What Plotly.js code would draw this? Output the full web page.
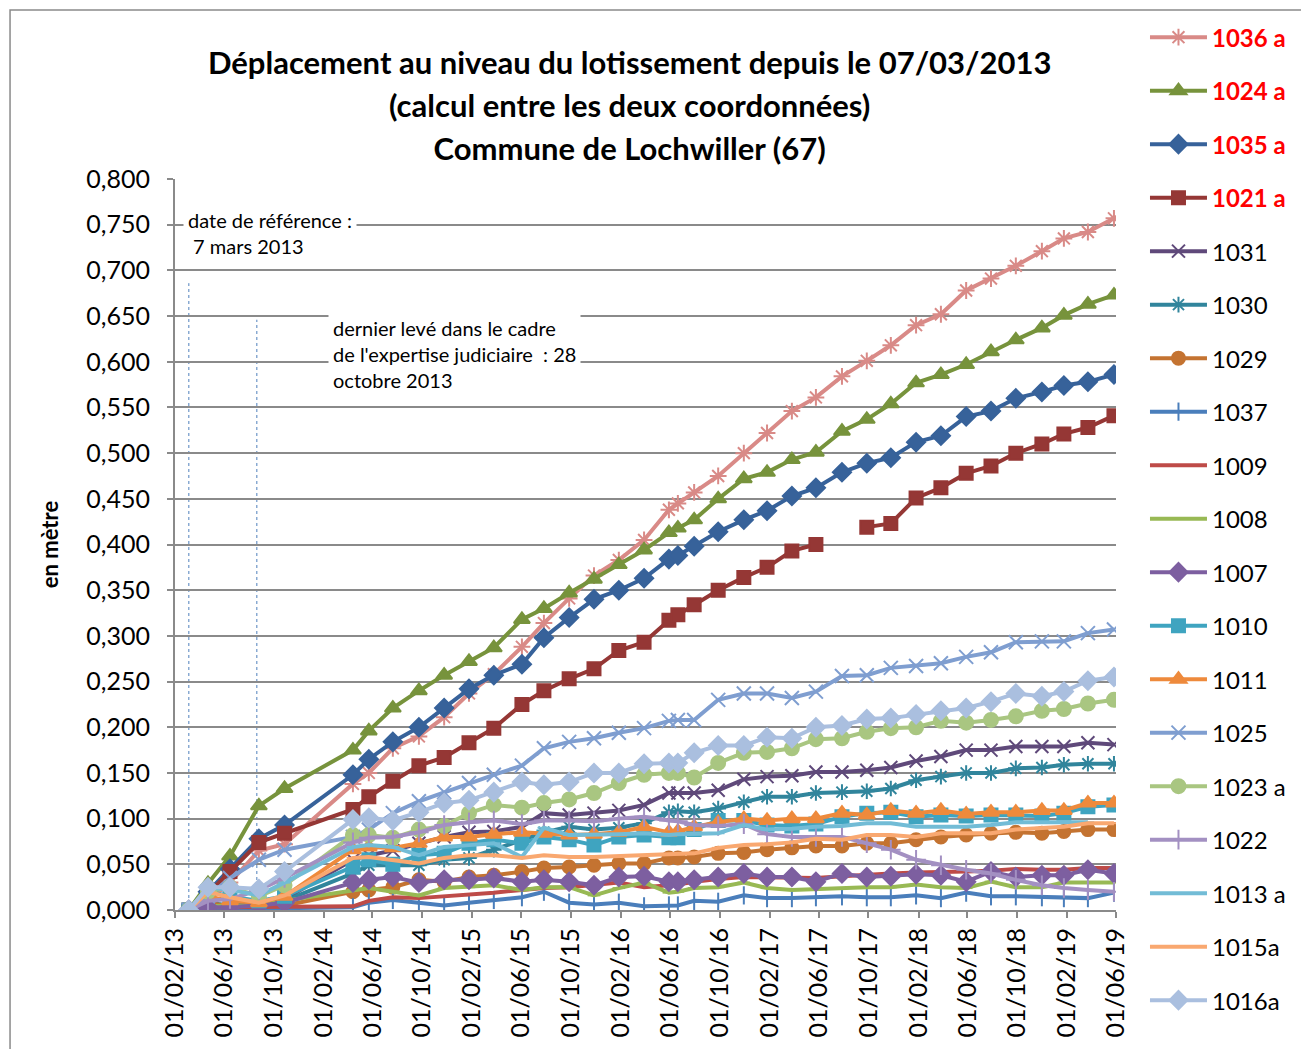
<!DOCTYPE html>
<html>
<head>
<meta charset="utf-8">
<script src="https://cdn.plot.ly/plotly-3.0.1.min.js"></script>
<style>html,body{margin:0;padding:0;background:#fff;}</style>
</head>
<body>
<div id="chart" style="width:1301px;height:1049px;"></div>
<script>
// ---- Data ----
const dates = ['2013-03-07','2013-04-23','2013-06-16','2013-08-26','2013-10-28',
  '2014-04-14','2014-05-23','2014-07-21','2014-09-23','2014-11-24',
  '2015-01-24','2015-03-26','2015-06-03','2015-07-27','2015-09-27','2015-11-27',
  '2016-01-27','2016-03-29','2016-05-29','2016-06-20','2016-07-30','2016-09-27','2016-11-29',
  '2017-01-25','2017-03-27','2017-05-25','2017-07-28','2017-09-27','2017-11-25',
  '2018-01-26','2018-03-28','2018-05-29','2018-07-29','2018-09-28','2018-12-01',
  '2019-01-24','2019-03-24','2019-05-27'];

const s1036a = [0,0.010,0.030,0.065,0.072,0.138,0.150,0.177,0.190,0.211,0.237,0.258,0.288,0.314,0.341,0.366,0.383,0.405,0.438,0.445,0.457,0.475,0.500,0.522,0.546,0.561,0.584,0.601,0.618,0.640,0.652,0.678,0.691,0.705,0.721,0.735,0.742,0.757];
const s1024a = [0,0.029,0.059,0.114,0.133,0.175,0.196,0.221,0.240,0.257,0.272,0.287,0.318,0.330,0.347,0.362,0.378,0.394,0.413,0.418,0.427,0.450,0.472,0.479,0.493,0.501,0.524,0.537,0.554,0.577,0.586,0.597,0.611,0.624,0.637,0.651,0.663,0.673];
const s1035a = [0,0.020,0.045,0.078,0.093,0.148,0.165,0.184,0.200,0.221,0.242,0.257,0.269,0.298,0.320,0.340,0.350,0.363,0.384,0.388,0.398,0.414,0.427,0.437,0.453,0.462,0.479,0.489,0.495,0.512,0.519,0.540,0.546,0.560,0.567,0.574,0.578,0.586];
const s1021a = [0,0.018,0.042,0.074,0.084,0.110,0.124,0.141,0.158,0.167,0.183,0.199,0.225,0.240,0.253,0.264,0.284,0.293,0.317,0.323,0.334,0.350,0.364,0.375,0.393,0.400,null,0.419,0.423,0.451,0.462,0.478,0.486,0.500,0.510,0.521,0.528,0.541];
const s1031 = [0,0.003,0.004,0.008,0.012,0.055,0.060,0.065,0.073,0.080,0.085,0.086,0.091,0.106,0.104,0.106,0.109,0.115,0.128,0.128,0.128,0.131,0.143,0.146,0.147,0.151,0.151,0.153,0.156,0.163,0.168,0.175,0.175,0.179,0.179,0.179,0.183,0.181];
const s1030 = [0,0.008,0.005,0.004,0.010,0.040,0.049,0.049,0.049,0.055,0.057,0.066,0.077,0.085,0.091,0.088,0.090,0.095,0.107,0.108,0.107,0.111,0.118,0.124,0.124,0.128,0.129,0.130,0.133,0.142,0.146,0.150,0.150,0.155,0.156,0.159,0.160,0.160];
const s1029 = [0,0.008,0.004,0.003,0.005,0.020,0.022,0.025,0.033,0.031,0.036,0.038,0.042,0.046,0.047,0.049,0.051,0.051,0.057,0.057,0.058,0.062,0.063,0.066,0.068,0.070,0.070,0.073,0.073,0.077,0.080,0.082,0.084,0.085,0.084,0.086,0.088,0.088];
const s1037 = [0,0.001,0.001,0.001,0.002,0.003,0.008,0.011,0.008,0.005,0.008,0.011,0.014,0.020,0.008,0.006,0.008,0.004,0.005,0.005,0.010,0.009,0.016,0.013,0.013,0.014,0.015,0.014,0.014,0.016,0.013,0.019,0.015,0.015,0.014,0.013,0.013,0.019];
const s1009 = [0,0.003,0.003,0.003,0.003,0.004,0.010,0.014,0.013,0.015,0.016,0.019,0.022,0.024,0.025,0.027,0.030,0.025,0.027,0.028,0.031,0.034,0.036,0.036,0.035,0.035,0.037,0.039,0.040,0.041,0.041,0.042,0.043,0.045,0.044,0.044,0.046,0.046];
const s1008 = [0,0.004,0.005,0.005,0.010,0.022,0.024,0.020,0.016,0.024,0.025,0.027,0.022,0.025,0.025,0.016,0.024,0.030,0.019,0.020,0.024,0.025,0.030,0.024,0.022,0.023,0.024,0.025,0.025,0.028,0.025,0.024,0.031,0.025,0.025,0.030,0.030,0.030];
const s1007 = [0,0.003,0.003,0.005,0.008,0.030,0.033,0.036,0.030,0.033,0.033,0.035,0.031,0.033,0.031,0.027,0.036,0.037,0.031,0.031,0.033,0.036,0.040,0.036,0.036,0.031,0.040,0.036,0.037,0.039,0.038,0.031,0.042,0.036,0.038,0.038,0.044,0.040];
const s1010 = [0,0.020,0.015,0.010,0.015,0.047,0.055,0.050,0.060,0.062,0.073,0.077,0.073,0.080,0.077,0.071,0.080,0.082,0.079,0.079,0.088,0.098,0.098,0.093,0.092,0.094,0.102,0.106,0.107,0.102,0.104,0.103,0.104,0.104,0.103,0.106,0.113,0.115];
const s1011 = [0,0.015,0.010,0.008,0.015,0.066,0.069,0.068,0.073,0.080,0.080,0.083,0.085,0.084,0.082,0.083,0.085,0.091,0.085,0.086,0.091,0.096,0.100,0.098,0.100,0.100,0.106,0.104,0.109,0.106,0.109,0.105,0.107,0.107,0.109,0.109,0.117,0.117];
const s1025 = [0,0.015,0.035,0.055,0.066,0.080,0.088,0.106,0.119,0.129,0.139,0.148,0.158,0.177,0.184,0.188,0.194,0.199,0.207,0.208,0.208,0.230,0.237,0.237,0.232,0.239,0.256,0.257,0.265,0.267,0.270,0.277,0.282,0.293,0.294,0.294,0.303,0.307];
const s1023a = [0,0.020,0.025,0.015,0.027,0.082,0.082,0.079,0.088,0.092,0.106,0.115,0.112,0.117,0.121,0.128,0.139,0.148,0.150,0.150,0.145,0.161,0.172,0.173,0.177,0.187,0.188,0.195,0.199,0.200,0.207,0.205,0.208,0.212,0.218,0.220,0.226,0.230];
const s1022 = [0,0.010,0.012,0.022,0.035,0.074,0.079,0.080,0.085,0.093,0.096,0.098,0.094,0.098,0.098,0.097,0.100,0.102,0.098,0.097,0.093,0.092,0.094,0.083,0.080,0.080,0.080,0.073,0.066,0.055,0.049,0.044,0.040,0.033,0.027,0.024,0.022,0.020];
const s1013a = [0,0.025,0.022,0.016,0.030,0.069,0.071,0.069,0.060,0.069,0.071,0.073,0.058,0.090,0.082,0.082,0.083,0.084,0.082,0.083,0.083,0.084,0.093,0.088,0.089,0.091,0.092,0.095,0.095,0.091,0.091,0.091,0.093,0.096,0.096,0.096,0.096,null];
const s1015a = [0,0.020,0.014,0.008,0.016,0.057,0.058,0.055,0.051,0.057,0.060,0.060,0.057,0.060,0.058,0.058,0.059,0.060,0.061,0.061,0.062,0.068,0.071,0.072,0.074,0.078,0.077,0.082,0.082,0.080,0.084,0.084,0.084,0.088,0.090,0.091,0.095,0.095];
const s1016a = [0,0.025,0.025,0.023,0.042,0.099,0.101,0.098,0.107,0.117,0.120,0.129,0.140,0.137,0.140,0.150,0.150,0.160,0.161,0.161,0.172,0.180,0.180,0.189,0.188,0.200,0.202,0.209,0.210,0.214,0.218,0.221,0.228,0.237,0.234,0.239,0.251,0.255];

const seriesNames = ['1036 a','1024 a','1035 a','1021 a','1031','1030','1029','1037','1009','1008','1007','1010','1011','1025','1023 a','1022','1013 a','1015a','1016a'];
const seriesValues = [s1036a,s1024a,s1035a,s1021a,s1031,s1030,s1029,s1037,s1009,s1008,s1007,s1010,s1011,s1025,s1023a,s1022,s1013a,s1015a,s1016a];
const highlighted = ['1036 a','1024 a','1035 a','1021 a'];

const titleLines = ['Déplacement au niveau du lotissement depuis le 07/03/2013','(calcul entre les deux coordonnées)','Commune de Lochwiller (67)'];
const yTitle = 'en mètre';
const note1 = 'date de référence :<br> 7 mars 2013';
const note2 = "dernier levé dans le cadre<br>de l'expertise judiciaire  : 28<br>octobre 2013";
const refDates = ['2013-03-07','2013-08-21'];
const refTops = [0.686, 0.646];

// ---- Styles ----
const styles = {
  '1036 a': {color:'#D98A87', symbol:'asterisk-open', size:14},
  '1024 a': {color:'#77933C', symbol:'triangle-up', size:14},
  '1035 a': {color:'#37629A', symbol:'diamond', size:14},
  '1021 a': {color:'#953735', symbol:'square', size:13},
  '1031':   {color:'#5F497A', symbol:'x-thin-open', size:13},
  '1030':   {color:'#31859C', symbol:'asterisk-open', size:13},
  '1029':   {color:'#C47331', symbol:'circle', size:13},
  '1037':   {color:'#4A7EBB', symbol:'line-ns-open', size:13},
  '1009':   {color:'#BE4B48', symbol:null, size:0},
  '1008':   {color:'#98B954', symbol:'line-ew-open', size:9},
  '1007':   {color:'#7D5FA0', symbol:'diamond', size:14},
  '1010':   {color:'#3FA4C0', symbol:'square', size:13},
  '1011':   {color:'#EE8A3C', symbol:'triangle-up', size:14},
  '1025':   {color:'#7F9ED0', symbol:'x-thin-open', size:14},
  '1023 a': {color:'#A9C681', symbol:'circle', size:14},
  '1022':   {color:'#A390C2', symbol:'cross-thin-open', size:14},
  '1013 a': {color:'#72BCD6', symbol:'line-ew-open', size:9},
  '1015a':  {color:'#F9A870', symbol:'line-ew-open', size:9},
  '1016a':  {color:'#AABFDF', symbol:'diamond', size:14}
};

const FONT = 'Lato, "Open Sans", sans-serif';
const GRID = '#8a8a8a';

const traces = seriesNames.map((name, i) => {
  const st = styles[name];
  const label = highlighted.includes(name)
    ? '<b><span style="color:#FF0000">' + name + '</span></b>' : name;
  const t = {
    type:'scatter', x: dates, y: seriesValues[i], name: label,
    legendgroup: 'g' + i,
    connectgaps: false,
    line: {color: st.color, width: 4},
    mode: st.symbol ? 'lines+markers' : 'lines'
  };
  if (st.symbol) {
    t.marker = {symbol: st.symbol, size: st.size, color: st.color,
      line: {color: st.color, width: 2}};
  }
  return t;
});

const layout = {
  width: 1301, height: 1049,
  margin: {l:175, r:185, t:179, b:139, autoexpand:false},
  paper_bgcolor:'#ffffff', plot_bgcolor:'#ffffff',
  separators: ', ',
  font: {family: FONT, color:'#000000', size:20},
  title: {
    text: titleLines.map(s => '<span style="font-size:31px">' + s + '</span>').join('<br>'),
    font: {family: FONT, size:33, weight:'bold', color:'#000000'},
    x: 0.484, xref:'container', xanchor:'center',
    y: 0.9295, yref:'container', yanchor:'top'
  },
  xaxis: {
    type:'date', range:['2013-02-01','2019-06-01'],
    tick0:'2013-02-01', dtick:'M4', tickformat:'%d/%m/%y', tickangle:-90,
    ticks:'outside', ticklen:6, tickwidth:2, tickcolor:GRID,
    showline:true, linecolor:GRID, linewidth:2,
    showgrid:false, zeroline:false, automargin:false,
    tickfont:{family:FONT, size:25, color:'#000'}
  },
  yaxis: {
    range:[0,0.8], tick0:0, dtick:0.05, tickformat:'.3f',
    ticks:'outside', ticklen:6, tickwidth:2, tickcolor:GRID,
    ticklabelstandoff:12,
    showline:true, linecolor:GRID, linewidth:2,
    showgrid:true, gridcolor:GRID, gridwidth:2, zeroline:false, automargin:false,
    tickfont:{family:FONT, size:25, color:'#000'},
    title:{text: yTitle, font:{family:FONT, size:22, weight:'bold', color:'#000'}, standoff:22}
  },
  showlegend:true,
  legend: {
    x: 1.0308, xanchor:'left', y: 1.2243, yanchor:'top',
    font:{family:FONT, size:24, color:'#000'},
    itemwidth:57, tracegroupgap:19.3, traceorder:'grouped',
    maxheight:1100,
    bgcolor:'rgba(0,0,0,0)', borderwidth:0
  },
  annotations: [
    {text: note1, xref:'paper', yref:'paper', x:0.0085, y:0.967, xanchor:'left', yanchor:'top',
     align:'left', showarrow:false, bgcolor:'#ffffff', borderpad:4,
     font:{family:FONT, size:20, color:'#000'}},
    {text: note2, xref:'paper', yref:'paper', x:0.1625, y:0.819, xanchor:'left', yanchor:'top',
     align:'left', showarrow:false, bgcolor:'#ffffff', borderpad:4,
     font:{family:FONT, size:20, color:'#000'}}
  ],
  shapes: [
    {type:'line', xref:'x', yref:'y', x0:refDates[0], x1:refDates[0], y0:0, y1:refTops[0],
     line:{color:'#4F81BD', width:1, dash:'dot'}, layer:'below'},
    {type:'line', xref:'x', yref:'y', x0:refDates[1], x1:refDates[1], y0:0, y1:refTops[1],
     line:{color:'#4F81BD', width:1, dash:'dot'}, layer:'below'},
    {type:'rect', xref:'paper', yref:'paper', x0:-0.1753, x1:1.21, y0:-0.2, y1:1.2312,
     line:{color:'#8a8a8a', width:1.5}, fillcolor:'rgba(0,0,0,0)'}
  ]
};

Plotly.newPlot('chart', traces, layout, {displayModeBar:false, responsive:false});
</script>
</body>
</html>
